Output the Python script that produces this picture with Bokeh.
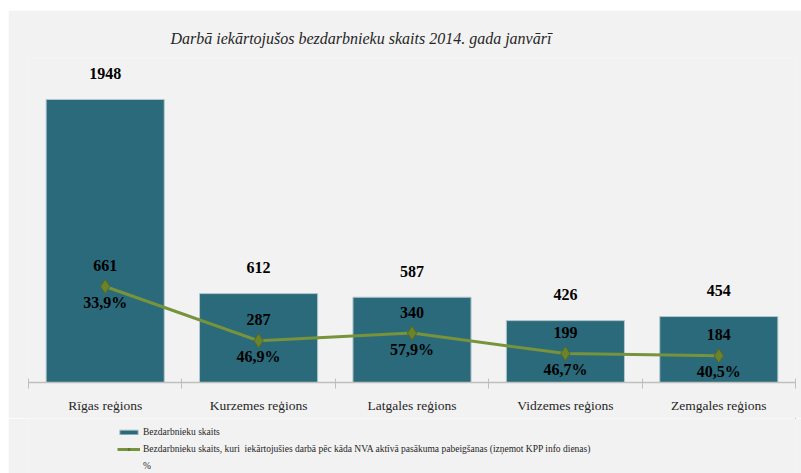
from bokeh.plotting import figure
from bokeh.models import Range1d, FixedTicker, Legend, LegendItem
from bokeh.layouts import column
from bokeh.embed import file_html
from bokeh.resources import INLINE
from bokeh.core.properties import value

# ---- data ----
regions = ["Rīgas reģions", "Kurzemes reģions", "Latgales reģions",
           "Vidzemes reģions", "Zemgales reģions"]
unemployed = [1948, 612, 587, 426, 454]
employed_after = [661, 287, 340, 199, 184]
share_labels = ["33,9%", "46,9%", "57,9%", "46,7%", "40,5%"]
title_text = "Darbā iekārtojušos bezdarbnieku skaits 2014. gada janvārī"
legend_bar = "Bezdarbnieku skaits"
legend_line = ("Bezdarbnieku skaits, kuri  iekārtojušies darbā pēc kāda NVA aktīvā "
               "pasākuma pabeigšanas (izņemot KPP info dienas)")
legend_extra = "%"

SERIF = "Liberation Serif"
BAR = "#2b6a7b"
BAR_EDGE = "#b3c8ce"
LINE = "#77933c"
MARK_FILL = "#6b842c"
MARK_LINE = "#56691f"
BG = "#f2f2f2"

xs = [i + 0.5 for i in range(len(regions))]

p = figure(width=793, height=408, output_backend="svg", toolbar_location=None,
           x_range=Range1d(0, len(regions)), y_range=Range1d(0, 2230),
           y_axis_location=None,
           min_border_left=20, min_border_right=6, min_border_top=48, min_border_bottom=36)
p.background_fill_color = BG
p.border_fill_color = BG
p.outline_line_color = None
p.grid.visible = False

p.title.text = title_text
p.title.align = "left"
p.title.offset = 142
p.title.standoff = 23
p.title.text_font = SERIF
p.title.text_font_style = "italic"
p.title.text_font_size = "16px"
p.title.text_color = "#262626"

ax = p.xaxis[0]
ax.ticker = FixedTicker(ticks=xs, minor_ticks=list(range(len(regions) + 1)))
ax.major_label_overrides = {x: r for x, r in zip(xs, regions)}
ax.major_tick_in = 0
ax.major_tick_out = 0
ax.minor_tick_in = 4
ax.minor_tick_out = 6
ax.minor_tick_line_color = "#bfbfbf"
ax.axis_line_color = "#bfbfbf"
ax.axis_line_width = 1.5
ax.major_label_standoff = 9
ax.major_label_text_font = SERIF
ax.major_label_text_font_size = "13.5px"
ax.major_label_text_color = "#262626"

p.vbar(x=xs, top=unemployed, width=0.77, fill_color=BAR, line_color=BAR_EDGE, line_width=1)
p.line(xs, employed_after, line_color=LINE, line_width=3)
p.scatter(xs, employed_after, marker="diamond", size=14,
          fill_color=MARK_FILL, line_color=MARK_LINE)

common = dict(text_font=value(SERIF), text_font_style="bold", text_font_size="16px",
              text_color="#000000", text_align="center", text_baseline="middle")
p.text(x=xs, y=unemployed, text=[str(v) for v in unemployed], y_offset=-26, **common)
p.text(x=xs, y=employed_after, text=[str(v) for v in employed_after], y_offset=-21, **common)
p.text(x=xs, y=employed_after, text=share_labels, y_offset=16, **common)

# ---- legend strip below the chart (series kept out of view, used only for swatches) ----
lg = figure(width=793, height=55, output_backend="svg", toolbar_location=None,
            x_range=Range1d(-20, -19), y_range=Range1d(-2, -1),
            x_axis_location=None, y_axis_location=None, min_border=0)
lg.background_fill_color = BG
lg.border_fill_color = BG
lg.outline_line_color = None
lg.grid.visible = False
lg_bar = lg.vbar(x=xs, top=unemployed, width=0.77, fill_color=BAR,
                 line_color=BAR_EDGE, line_width=1)
lg_line = lg.line(xs, employed_after, line_color=LINE, line_width=3)
lg_mark = lg.scatter(xs, employed_after, marker="diamond", size=8,
                     fill_color=MARK_FILL, line_color=MARK_LINE)
lg_blank = lg.scatter(xs, employed_after, fill_alpha=0, line_alpha=0)

legend = Legend(items=[LegendItem(label=legend_bar, renderers=[lg_bar]),
                       LegendItem(label=legend_line, renderers=[lg_line, lg_mark]),
                       LegendItem(label=legend_extra, renderers=[lg_blank])],
                location=(89, 1), orientation="vertical",
                glyph_width=23, glyph_height=6, label_standoff=3, label_height=13,
                spacing=4, padding=0, margin=0, border_line_color=None,
                background_fill_alpha=0, label_text_font=SERIF,
                label_text_font_size="9.5px", label_text_color="#262626")
lg.add_layout(legend)

layout = column(p, lg, spacing=0)
layout.margin = (10, 0, 0, 8)

open("out.html", "w").write(file_html(layout, INLINE))
